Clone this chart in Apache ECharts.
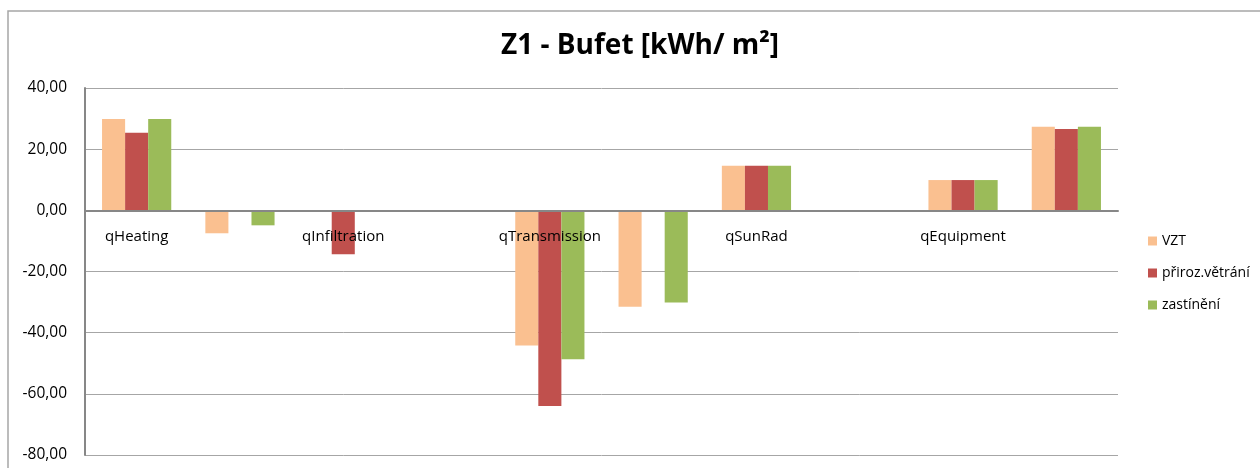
<!DOCTYPE html>
<html>
<head>
<meta charset="utf-8">
<script src="https://cdn.jsdelivr.net/npm/echarts@6/dist/echarts.min.js"></script>
<style>
  html, body { margin: 0; padding: 0; background: #fff; }
  #chart { width: 1260px; height: 468px; }
</style>
</head>
<body>
<div id="chart"></div>
<script>
// categories (only every second one is labelled in the original chart)
var categories = ['qHeating', 'qCooling', 'qInfiltration', 'qGround', 'qTransmission',
  'qVentilation', 'qSunRad', 'qLatent', 'qEquipment', 'qOccupants']
var seriesNames = ['VZT', 'přiroz.větrání', 'zastínění']
var vztData = [29.9, -7.5, 0, 0, -44.2, -31.5, 14.6, 0, 9.9, 27.3]
var prirozData = [25.4, 0, -14.4, 0, -64.0, 0, 14.6, 0, 9.9, 26.6]
var zastineniData = [29.9, -4.9, 0, 0, -48.7, -30.1, 14.6, 0, 9.9, 27.3]
var yTicks = { min: -80, max: 40, interval: 20 }

var colors = ['#FAC090', '#C0504D', '#9BBB59']
var font = 'Open Sans'

var chart = echarts.init(document.getElementById('chart'))
chart.setOption({
  animation: false,
  color: colors,
  graphic: [{
    type: 'rect',
    shape: { x: 8, y: 11, width: 1400, height: 600 },
    style: { fill: 'none', stroke: '#a6a6a6', lineWidth: 1.5 },
    silent: true
  }],
  title: {
    text: 'Z1 - Bufet [kWh/ m²]',
    left: 496,
    top: 27,
    textStyle: { fontFamily: font, fontWeight: 'bold', fontSize: 28, color: '#000' }
  },
  legend: {
    orient: 'vertical',
    left: 1148,
    top: 234,
    padding: 0,
    itemWidth: 9,
    itemHeight: 9,
    itemGap: 18,
    icon: 'rect',
    data: seriesNames,
    textStyle: { fontFamily: font, fontSize: 14, color: '#000' }
  },
  grid: { left: 85, top: 88, right: 142, bottom: 13, containLabel: false, outerBoundsMode: 'none' },
  xAxis: {
    type: 'category',
    data: categories,
    z: 5,
    axisLine: { onZero: false, lineStyle: { color: '#878787', width: 2 } },
    axisTick: { show: false },
    axisLabel: {
      interval: 1,
      margin: 19,
      fontFamily: font,
      fontSize: 15,
      color: '#000'
    }
  },
  yAxis: {
    type: 'value',
    min: yTicks.min,
    max: yTicks.max,
    interval: yTicks.interval,
    axisLine: { show: true, lineStyle: { color: '#878787', width: 2 } },
    axisTick: { show: false },
    splitLine: { lineStyle: { color: '#a6a6a6', width: 1 } },
    axisLabel: {
      margin: 18,
      fontFamily: font,
      fontSize: 15.5,
      color: '#000',
      formatter: function (v) { return v.toFixed(2).replace('.', ',') }
    }
  },
  series: [
    { name: seriesNames[0], type: 'bar', data: vztData, barGap: '0%', barCategoryGap: '33%' },
    { name: seriesNames[1], type: 'bar', data: prirozData, barGap: '0%', barCategoryGap: '33%' },
    { name: seriesNames[2], type: 'bar', data: zastineniData, barGap: '0%', barCategoryGap: '33%' }
  ]
})

// move the category axis (line + labels) up to the y = 0 position
var zeroY = chart.convertToPixel({ yAxisIndex: 0 }, 0)
var bottomY = chart.convertToPixel({ yAxisIndex: 0 }, yTicks.min)
chart.setOption({ xAxis: { offset: zeroY - bottomY } })
</script>
</body>
</html>
